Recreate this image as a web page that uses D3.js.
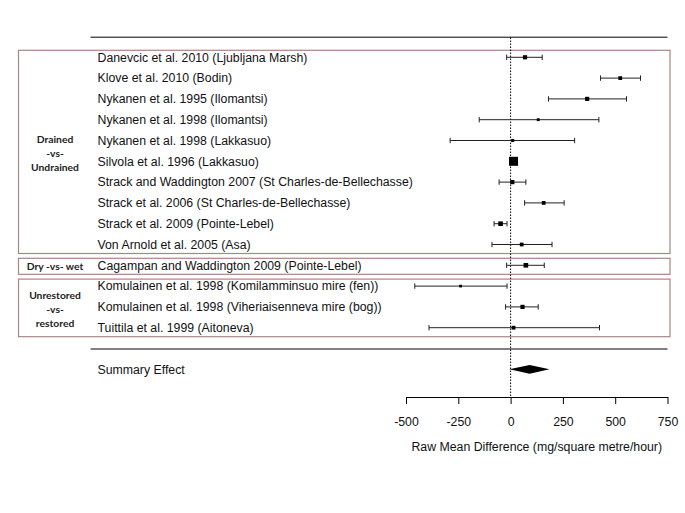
<!DOCTYPE html>
<html>
<head>
<meta charset="utf-8">
<script src="https://cdn.jsdelivr.net/npm/d3@7"></script>
<style>
  body { margin: 0; background: #fff; }
  text { font-family: "Liberation Sans", Arial, sans-serif; }
</style>
</head>
<body>
<div id="chart"></div>
<script>
// studies, top to bottom
const studies = [
  "Danevcic et al. 2010 (Ljubljana Marsh)",
  "Klove et al. 2010 (Bodin)",
  "Nykanen et al. 1995 (Ilomantsi)",
  "Nykanen et al. 1998 (Ilomantsi)",
  "Nykanen et al. 1998 (Lakkasuo)",
  "Silvola et al. 1996 (Lakkasuo)",
  "Strack and Waddington 2007 (St Charles-de-Bellechasse)",
  "Strack et al. 2006 (St Charles-de-Bellechasse)",
  "Strack et al. 2009 (Pointe-Lebel)",
  "Von Arnold et al. 2005 (Asa)",
  "Cagampan and Waddington 2009 (Pointe-Lebel)",
  "Komulainen et al. 1998 (Komilamminsuo mire (fen))",
  "Komulainen et al. 1998 (Viheriaisenneva mire (bog))",
  "Tuittila et al. 1999 (Aitoneva)"
];
const estimate = [69, 524, 366, 132, 10, 14, 8, 158, -48, 53, 73, -239, 57, 14];
const ciLow    = [-19, 430, 181, -150, -289, 14, -55, 67, -79, -89, -19, -458, -24, -390];
const ciHigh   = [151, 621, 554, 422, 306, 14, 73, 256, -17, 198, 161, -17, 132, 425];
const weight   = [3.5, 3, 3.5, 2, 2.2, 9, 3.5, 3, 4, 3, 4, 1.8, 3.5, 3];

// groups: label lines, first row, last row
const groupLabels = [["Drained", "-vs-", "Undrained"], ["Dry -vs- wet"], ["Unrestored", "-vs-", "restored"]];
const groupFirst = [0, 10, 11];
const groupLast  = [9, 10, 13];

const summaryLabel = "Summary Effect";
const summary = { est: 91, lo: -6, hi: 186 };

const tickValues = [-500, -250, 0, 250, 500, 750];
const xTitle = "Raw Mean Difference (mg/square metre/hour)";

const width = 685, height = 513;

const svg = d3.select("#chart").append("svg")
  .attr("width", width)
  .attr("height", height);

const x = d3.scaleLinear().domain([-500, 750]).range([406, 667.5]);
const y = d3.scaleLinear().domain([0, 1]).range([57.3, 78.1]); // row index -> y
const box = d3.scaleLinear().domain([1, 9]).range([2, 9]);

const lineLeft = 90.5, lineRight = 667.5;
const axisY = 397;
const fs = "12.3px";

// group frames
groupLabels.forEach((lines, g) => {
  const top = y(groupFirst[g]) - 7, bottom = y(groupLast[g]) + 9;
  svg.append("rect")
    .attr("x", 18.5).attr("y", top)
    .attr("width", 651.5).attr("height", bottom - top)
    .attr("fill", "none")
    .attr("stroke", "#a98585")
    .attr("stroke-width", 1.2);
  const mid = (top + bottom) / 2 + (lines.length > 1 ? 1.5 : 0);
  const gap = 13.6;
  lines.forEach((t, k) => {
    svg.append("text")
      .attr("x", 55)
      .attr("y", mid + (k - (lines.length - 1) / 2) * gap)
      .attr("dy", "0.35em")
      .attr("text-anchor", "middle")
      .style("font-family", "Lato, 'Open Sans', sans-serif")
      .style("font-weight", "bold")
      .style("font-size", "10.3px")
      .attr("fill", "#222")
      .text(t);
  });
});

// top and bottom rules
svg.append("line").attr("x1", lineLeft).attr("x2", lineRight)
  .attr("y1", y(-1) + 0.7).attr("y2", y(-1) + 0.7).attr("stroke", "#000");
svg.append("line").attr("x1", lineLeft).attr("x2", lineRight)
  .attr("y1", y(14) + 0.5).attr("y2", y(14) + 0.5).attr("stroke", "#000");

// reference line at 0
svg.append("line")
  .attr("x1", x(0)).attr("x2", x(0))
  .attr("y1", y(-1) + 1).attr("y2", axisY)
  .attr("stroke", "#000")
  .attr("stroke-dasharray", "1.5,1.5");

// study labels
svg.selectAll(".lab").data(studies).enter().append("text")
  .attr("class", "lab")
  .attr("x", 97.5)
  .attr("y", (d, i) => y(i))
  .attr("dy", "0.35em")
  .style("font-size", fs)
  .attr("fill", "#111")
  .text(d => d);

// confidence intervals
const rows = studies.map((s, i) => ({ i, est: estimate[i], lo: ciLow[i], hi: ciHigh[i], w: weight[i] }));
const ci = svg.selectAll(".ci").data(rows.filter(r => r.hi > r.lo)).enter().append("g")
  .attr("stroke", "#222").attr("stroke-width", 1);
ci.append("line")
  .attr("x1", d => x(d.lo)).attr("x2", d => x(d.hi))
  .attr("y1", d => y(d.i)).attr("y2", d => y(d.i));
ci.append("line")
  .attr("x1", d => x(d.lo)).attr("x2", d => x(d.lo))
  .attr("y1", d => y(d.i) - 2.7).attr("y2", d => y(d.i) + 2.7);
ci.append("line")
  .attr("x1", d => x(d.hi)).attr("x2", d => x(d.hi))
  .attr("y1", d => y(d.i) - 2.7).attr("y2", d => y(d.i) + 2.7);

// point estimates
svg.selectAll(".pt").data(rows).enter().append("rect")
  .attr("x", d => x(d.est) - box(d.w) / 2)
  .attr("y", d => y(d.i) - box(d.w) / 2)
  .attr("width", d => box(d.w))
  .attr("height", d => box(d.w))
  .attr("fill", "#000");

// summary
svg.append("text")
  .attr("x", 97.5).attr("y", y(15))
  .attr("dy", "0.35em")
  .style("font-size", fs)
  .attr("fill", "#111")
  .text(summaryLabel);
const sy = y(15);
svg.append("polygon")
  .attr("points", [[x(summary.lo), sy], [x(summary.est), sy - 4.4], [x(summary.hi), sy], [x(summary.est), sy + 4.4]].join(" "))
  .attr("fill", "#000");

// x axis
const axis = svg.append("g")
  .attr("transform", `translate(0,${axisY})`)
  .call(d3.axisBottom(x).tickValues(tickValues).tickFormat(d => String(d))
    .tickSize(7).tickSizeOuter(0).tickPadding(13));
axis.select(".domain").attr("stroke", "#000");
axis.selectAll(".tick line").attr("stroke", "#000");
axis.selectAll(".tick text")
  .style("font-family", "'Liberation Sans', Arial, sans-serif")
  .style("font-size", fs)
  .attr("fill", "#111");

svg.append("text")
  .attr("x", (x.range()[0] + x.range()[1]) / 2)
  .attr("y", 447)
  .attr("dy", "0.35em")
  .attr("text-anchor", "middle")
  .style("font-size", fs)
  .attr("fill", "#111")
  .text(xTitle);
</script>
</body>
</html>
